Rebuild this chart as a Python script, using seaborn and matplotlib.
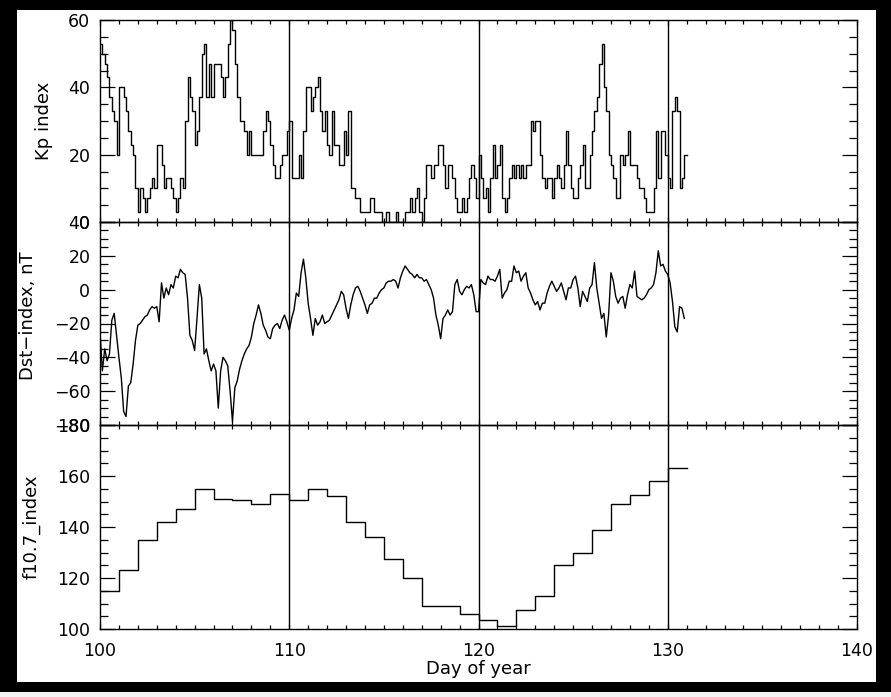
import numpy as np
import pandas as pd
import matplotlib
matplotlib.use("Agg")
import matplotlib.pyplot as plt
from matplotlib.patches import Rectangle
from matplotlib.ticker import MultipleLocator
import seaborn as sns

# ---------------- data ----------------
start_day = 100
kp_per_day = 8  # 3-hour values

kp_values = [
    53, 50, 47, 43, 37, 33, 30, 20,   # 100
    40, 40, 37, 33, 27, 23, 20, 10,   # 101
    3, 10, 7, 3, 7, 10, 13, 10,       # 102
    23, 23, 17, 10, 13, 13, 10, 7,    # 103
    3, 7, 13, 10, 30, 43, 37, 33,     # 104
    23, 27, 37, 50, 53, 37, 47, 37,   # 105
    47, 47, 47, 43, 37, 43, 53, 60,   # 106
    57, 47, 37, 30, 30, 27, 20, 27,   # 107
    20, 20, 20, 20, 20, 27, 33, 30,   # 108
    23, 17, 13, 13, 17, 20, 20, 27,   # 109
    30, 13, 13, 13, 20, 13, 27, 40,   # 110
    40, 33, 37, 40, 43, 33, 27, 33,   # 111
    23, 20, 33, 23, 23, 17, 17, 27,   # 112
    20, 33, 10, 10, 7, 7, 3, 3,       # 113
    3, 3, 7, 7, 3, 3, 3, 0,           # 114
    0, 3, 0, 0, 0, 3, 0, 0,           # 115
    0, 3, 3, 7, 3, 7, 10, 3,          # 116
    0, 7, 17, 17, 13, 17, 17, 23,     # 117
    23, 17, 10, 17, 17, 13, 7, 3,     # 118
    3, 7, 3, 7, 13, 17, 13, 7,        # 119
    20, 13, 7, 10, 3, 13, 23, 13,     # 120
    17, 23, 7, 3, 7, 13, 17, 13,      # 121
    17, 13, 17, 13, 17, 17, 30, 27,   # 122
    30, 30, 20, 13, 10, 13, 13, 7,    # 123
    13, 17, 13, 10, 17, 27, 17, 10,   # 124
    7, 7, 13, 17, 23, 10, 10, 20,     # 125
    27, 33, 37, 47, 53, 40, 33, 20,   # 126
    17, 13, 7, 7, 20, 17, 20, 27,     # 127
    17, 17, 17, 13, 10, 10, 7, 3,     # 128
    3, 3, 10, 27, 13, 27, 27, 20,     # 129
    13, 10, 33, 37, 33, 10, 13, 20,   # 130
]

dst_values = [
    -25, -48, -35, -42, -38, -18, -14, -27,   # 100
    -40, -52, -72, -75, -57, -55, -44, -30,   # 101
    -21, -20, -18, -16, -15, -12, -10, -11,   # 102
    -10, -19, 4, -5, 1, -3, 3, 1,             # 103
    8, 7, 12, 10, 9, -5, -27, -30,            # 104
    -36, -17, 3, -5, -38, -35, -42, -48,      # 105
    -44, -48, -70, -48, -40, -42, -45, -60,   # 106
    -78, -58, -54, -47, -42, -38, -35, -33,   # 107
    -28, -20, -15, -9, -14, -21, -24, -28,    # 108
    -29, -23, -21, -20, -23, -18, -15, -19,   # 109
    -24, -17, -12, -2, -4, 10, 18, 7,         # 110
    -8, -17, -27, -17, -21, -19, -15, -20,    # 111
    -19, -18, -15, -12, -9, -6, -1, -3,       # 112
    -11, -17, -9, -3, 1, 2, -1, -5,           # 113
    -9, -14, -9, -8, -5, -5, -2, 0,           # 114
    1, 4, 5, 5, 6, 5, 1, 7,                   # 115
    11, 14, 12, 10, 9, 7, 9, 7,               # 116
    7, 5, 6, 3, 0, -5, -15, -21,              # 117
    -29, -17, -15, -12, -15, -13, 3, 6,       # 118
    -1, -3, 0, 2, 1, 3, -3, -13,              # 119
    -13, 6, 4, 3, 8, 6, 6, 5,                 # 120
    8, 12, -5, -2, 0, 5, 5, 14,               # 121
    10, 11, 5, 8, 10, 1, -2, -6,              # 122
    -9, -7, -12, -8, -8, -2, 2, 5,            # 123
    2, -1, 1, 4, -1, -6, 1, 1,                # 124
    6, 8, 1, -10, -1, -4, -7, 1,              # 125
    3, 16, 1, -8, -17, -14, -28, -15,         # 126
    10, 5, -4, -8, -5, -4, -11, -3,           # 127
    3, 1, 11, -4, -5, -6, -5, -3,             # 128
    0, 1, 3, 10, 23, 14, 15, 11,              # 129
    9, 4, -7, -22, -25, -10, -11, -17,        # 130
]

f107_values = [115, 123, 135, 142, 147, 155, 151, 150.5, 149, 153,
               150.5, 155, 152, 142, 136, 127.5, 120, 109, 109, 106,
               103.5, 101, 107.5, 113, 125, 130, 139, 149, 152.5, 158, 163]

marker_days = [110, 120, 130]
x_ticks = [100, 110, 120, 130, 140]

# ---------------- build tables ----------------
n_kp = len(kp_values)
kp_days = start_day + np.arange(n_kp + 1) / kp_per_day
kp_df = pd.DataFrame({"day": kp_days, "kp": kp_values + [kp_values[-1]]})

n_dst = len(dst_values)
dst_days = start_day + np.arange(n_dst) / kp_per_day
dst_df = pd.DataFrame({"day": dst_days, "dst": dst_values})

f_days = start_day + np.arange(len(f107_values) + 1)
f_df = pd.DataFrame({"day": f_days, "f107": f107_values + [f107_values[-1]]})

# ---------------- figure ----------------
plt.rcParams["font.family"] = ["DejaVu Sans"]
plt.rcParams["axes.unicode_minus"] = True

W, H = 891, 697
fig = plt.figure(figsize=(W / 100, H / 100), dpi=100, facecolor="black")
# white plotting area inside black frame (drawn behind the axes)
fig.patches.append(Rectangle((17 / W, 1 - 682 / H), (876 - 17) / W, (682 - 10) / H,
                             transform=fig.transFigure, facecolor="white",
                             edgecolor="none", zorder=-10))
fig.patches.append(Rectangle((0, 0), 1, 5 / H, transform=fig.transFigure,
                             facecolor="#f4f4f4", edgecolor="none", zorder=-10))

left = 100 / W
width = (857 - 100) / W
rows = [(20, 222), (222, 425), (425, 629)]
axes = []
for top, bot in rows:
    ax = fig.add_axes([left, 1 - bot / H, width, (bot - top) / H])
    ax.set_facecolor("none")
    ax.set_zorder(1)
    axes.append(ax)

ax_kp, ax_dst, ax_f = axes

line_kw = dict(color="black", lw=1.0, estimator=None, legend=False, sort=False)
sns.lineplot(data=kp_df, x="day", y="kp", ax=ax_kp, drawstyle="steps-post", **line_kw)
sns.lineplot(data=dst_df, x="day", y="dst", ax=ax_dst, **line_kw)
sns.lineplot(data=f_df, x="day", y="f107", ax=ax_f, drawstyle="steps-post", **line_kw)

ax_kp.set_ylim(0, 60)
ax_dst.set_ylim(-80, 40)
ax_f.set_ylim(100, 180)

ax_kp.set_yticks([0, 20, 40, 60])
ax_dst.set_yticks([-80, -60, -40, -20, 0, 20, 40])
ax_f.set_yticks([100, 120, 140, 160, 180])

tick_fs = 12.5
label_fs = 13
for ax in axes:
    ax.set_xlim(100, 140)
    ax.set_xticks(x_ticks)
    ax.xaxis.set_minor_locator(MultipleLocator(1))
    ax.yaxis.set_minor_locator(MultipleLocator(5))
    for d in marker_days:
        ax.axvline(d, color="black", lw=1.0, zorder=3)
    for s in ax.spines.values():
        s.set_linewidth(1.0)
        s.set_color("black")
    ax.tick_params(which="both", direction="in", top=True, right=True,
                   color="black", width=0.9, labelsize=tick_fs, labelcolor="black")
    ax.tick_params(axis="y", which="major", length=10.8, pad=7)
    ax.tick_params(axis="y", which="minor", length=5.6)
    ax.tick_params(axis="x", which="major", length=3.6, pad=9)
    ax.tick_params(axis="x", which="minor", length=3.2)
    ax.set_xlabel("")

for ax in (ax_kp, ax_dst):
    ax.tick_params(labelbottom=False)

ax_kp.set_ylabel("Kp index", fontsize=label_fs)
ax_dst.set_ylabel("Dst\u2212index, nT", fontsize=label_fs)
ax_f.set_ylabel("f10.7_index", fontsize=label_fs)
ax_kp.yaxis.set_label_coords(-0.062, 0.5)
ax_dst.yaxis.set_label_coords(-0.083, 0.54)
ax_f.yaxis.set_label_coords(-0.078, 0.5)

ax_f.set_xlabel("Day of year", fontsize=label_fs, labelpad=0)

fig.savefig("out.png", dpi=100, facecolor=fig.get_facecolor())
